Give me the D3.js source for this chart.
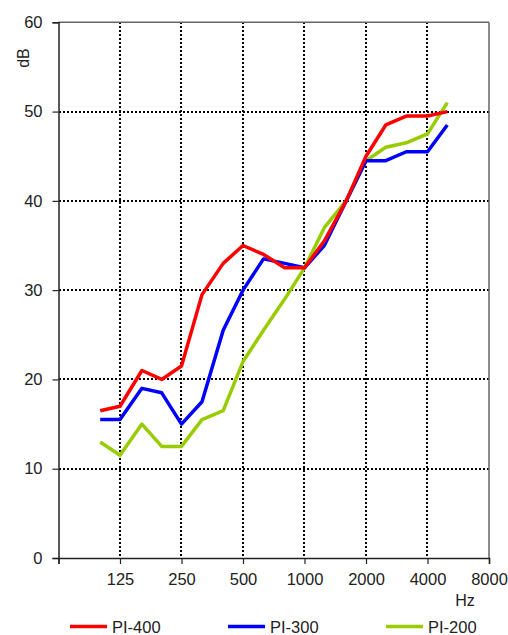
<!DOCTYPE html>
<html><head><meta charset="utf-8">
<script src="https://cdn.jsdelivr.net/npm/d3@7"></script>
<style>
body{margin:0;background:#fff;}
text{font-family:"Liberation Sans",Arial,sans-serif;fill:#222;}
</style></head>
<body><svg id="c" width="508" height="635"></svg>
<script>
const freqs = [100,125,160,200,250,315,400,500,630,800,1000,1250,1600,2000,2500,3150,4000,5000];
const pi400 = [16.5,17,21,20,21.5,29.5,33,35,34,32.5,32.5,35.5,40,45,48.5,49.5,49.5,50];
const pi300 = [15.5,15.5,19,18.5,15,17.5,25.5,30,33.5,33,32.5,35,40,44.5,44.5,45.5,45.5,48.5];
const pi200 = [13,11.5,15,12.5,12.5,15.5,16.5,22,25.5,29,32.5,37,40,44.5,46,46.5,47.5,51];
const xTicks = [62.5,125,250,500,1000,2000,4000,8000];
const xTickLabels = ["","125","250","500","1000","2000","4000","8000"];
const yTicks = [0,10,20,30,40,50,60];
const seriesNames = ["PI-400","PI-300","PI-200"];
const seriesColors = ["#ff0000","#0000ff","#99cc00"];

const svg = d3.select("#c");
const L=58.5, R=489, T=22.3, B=558;
const x = d3.scaleLog().base(2).domain([62.5,8000]).range([L,R]);
const y = d3.scaleLinear().domain([0,60]).range([B,T]);

// grid
const g = svg.append("g").attr("shape-rendering","crispEdges");
g.selectAll("line.h").data(yTicks.filter(v=>v>0&&v<60)).enter().append("line")
  .attr("x1",L).attr("x2",R).attr("y1",d=>Math.round(y(d))).attr("y2",d=>Math.round(y(d)))
  .attr("stroke","#000").attr("stroke-width",2).attr("stroke-dasharray","2,2");
g.selectAll("line.v").data(xTicks.filter(v=>v>62.5&&v<8000)).enter().append("line")
  .attr("y1",T).attr("y2",B).attr("x1",d=>Math.round(x(d))).attr("x2",d=>Math.round(x(d)))
  .attr("stroke","#000").attr("stroke-width",2).attr("stroke-dasharray","2,2");

// frame top/right
svg.append("line").attr("x1",L).attr("x2",R).attr("y1",T).attr("y2",T).attr("stroke","#666").attr("stroke-width",1.5);
svg.append("line").attr("x1",R).attr("x2",R).attr("y1",T).attr("y2",B).attr("stroke","#666").attr("stroke-width",1.5);

// axes
const xAxis = d3.axisBottom(x).tickValues(xTicks).tickSize(6).tickPadding(9)
  .tickFormat((d,i)=>xTickLabels[i]);
const xa = svg.append("g").attr("transform",`translate(0,${B})`).call(xAxis);
xa.select(".domain").attr("stroke","#222").attr("stroke-width",1.5);
xa.selectAll(".tick line").attr("stroke","#222").attr("stroke-width",1.2);
xa.selectAll("text").attr("font-size","16.5px").attr("fill","#222").style("font-family","'Liberation Sans',Arial,sans-serif");

const yAxis = d3.axisLeft(y).tickValues(yTicks).tickSize(6).tickPadding(10);
const ya = svg.append("g").attr("transform",`translate(${L},0)`).call(yAxis);
ya.select(".domain").attr("stroke","#222").attr("stroke-width",1.5);
ya.selectAll(".tick line").attr("stroke","#222").attr("stroke-width",1.2);
ya.selectAll("text").attr("font-size","16.5px").attr("fill","#222").style("font-family","'Liberation Sans',Arial,sans-serif");

// axis titles
svg.append("text").attr("transform","translate(29,58) rotate(-90)").attr("text-anchor","middle")
  .attr("font-size","16px").text("dB");
svg.append("text").attr("x",465).attr("y",606).attr("text-anchor","middle").attr("font-size","16px").text("Hz");

// lines
const data = [pi400,pi300,pi200];
const line = d3.line().x((d,i)=>x(freqs[i])).y(d=>y(d));
svg.append("g").selectAll("path").data(data.slice().reverse()).enter().append("path")
  .attr("d",line).attr("fill","none")
  .attr("stroke",(d,i)=>seriesColors[2-i]).attr("stroke-width",3.5).attr("stroke-linejoin","round");

// legend
const legX = [70,228,386];
const lg = svg.append("g");
seriesNames.forEach((n,i)=>{
  lg.append("line").attr("x1",legX[i]).attr("x2",legX[i]+37).attr("y1",626.5).attr("y2",626.5)
    .attr("stroke",seriesColors[i]).attr("stroke-width",3.5);
  lg.append("text").attr("x",legX[i]+42).attr("y",632.5).attr("font-size","16.5px").text(n);
});
</script></body></html>
